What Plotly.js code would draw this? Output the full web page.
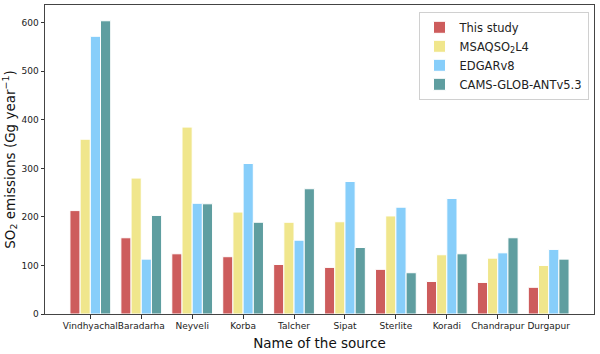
<!DOCTYPE html>
<html>
<head>
<meta charset="utf-8">
<script src="https://cdn.plot.ly/plotly-3.0.1.min.js"></script>
<style>html,body{margin:0;padding:0;background:#fff;}#chart{width:600px;height:354px;}</style>
</head>
<body>
<div id="chart"></div>
<script>
const sources = ["Vindhyachal","Baradarha","Neyveli","Korba","Talcher","Sipat","Sterlite","Koradi","Chandrapur","Durgapur"];
const thisStudy = [213,157,124,118,102,96,92,67,65,55];
const msaqso2 = [360,280,385,210,189,190,202,122,115,100];
const edgar = [572,113,228,310,152,273,220,238,126,133];
const cams = [604,203,227,189,258,137,85,124,157,113];
const seriesNames = ["This study","MSAQSO<sub>2</sub>L4","EDGARv8","CAMS-GLOB-ANTv5.3"];
const colors = ["#CD5C5C","#F0E68C","#87CEFA","#5F9EA0"];
const yTicks = [0,100,200,300,400,500,600];

const values = [thisStudy, msaqso2, edgar, cams];
const idx = sources.map((_, i) => i);
const traces = values.map((v, k) => ({
  type: "bar",
  x: idx,
  y: v,
  name: seriesNames[k],
  marker: {color: colors[k], line: {color: "#ffffff", width: 1}},
  hoverinfo: "y"
}));

const layout = {
  width: 600, height: 354,
  margin: {l: 45, r: 6, t: 5, b: 40},
  paper_bgcolor: "#fff", plot_bgcolor: "#fff",
  font: {family: "DejaVu Sans", color: "#222"},
  barmode: "group", bargap: 0.2, bargroupgap: 0,
  showlegend: true,
  legend: {
    x: 0.99, y: 0.978, xanchor: "right", yanchor: "top",
    bgcolor: "rgba(255,255,255,0.8)", bordercolor: "#d0d0d0", borderwidth: 1,
    font: {family: "DejaVu Sans", size: 11.5, color: "#222"},
    tracegroupgap: 0, itemwidth: 30
  },
  xaxis: {
    range: [-0.89, 9.89],
    tickmode: "array", tickvals: idx, ticktext: sources,
    tickangle: 0, automargin: false,
    tickfont: {size: 9, color: "#222"},
    ticks: "outside", ticklen: 3.5, tickcolor: "#333",
    showline: true, linecolor: "#444", linewidth: 1, mirror: true,
    showgrid: false, zeroline: false,
    title: {text: "Name of the source", font: {size: 13.5, color: "#111"}, standoff: 8}
  },
  yaxis: {
    range: [0, 636.5],
    tickmode: "array", tickvals: yTicks,
    automargin: false,
    tickfont: {size: 9, color: "#222"},
    ticks: "outside", ticklen: 3.5, tickcolor: "#333",
    showline: true, linecolor: "#444", linewidth: 1, mirror: true,
    showgrid: false, zeroline: false,
    title: {text: "SO<sub>2</sub> emissions (Gg year<sup>−1</sup>)", font: {size: 13.5, color: "#111"}, standoff: 8}
  }
};

Plotly.newPlot("chart", traces, layout, {displayModeBar: false, staticPlot: true});
</script>
</body>
</html>
